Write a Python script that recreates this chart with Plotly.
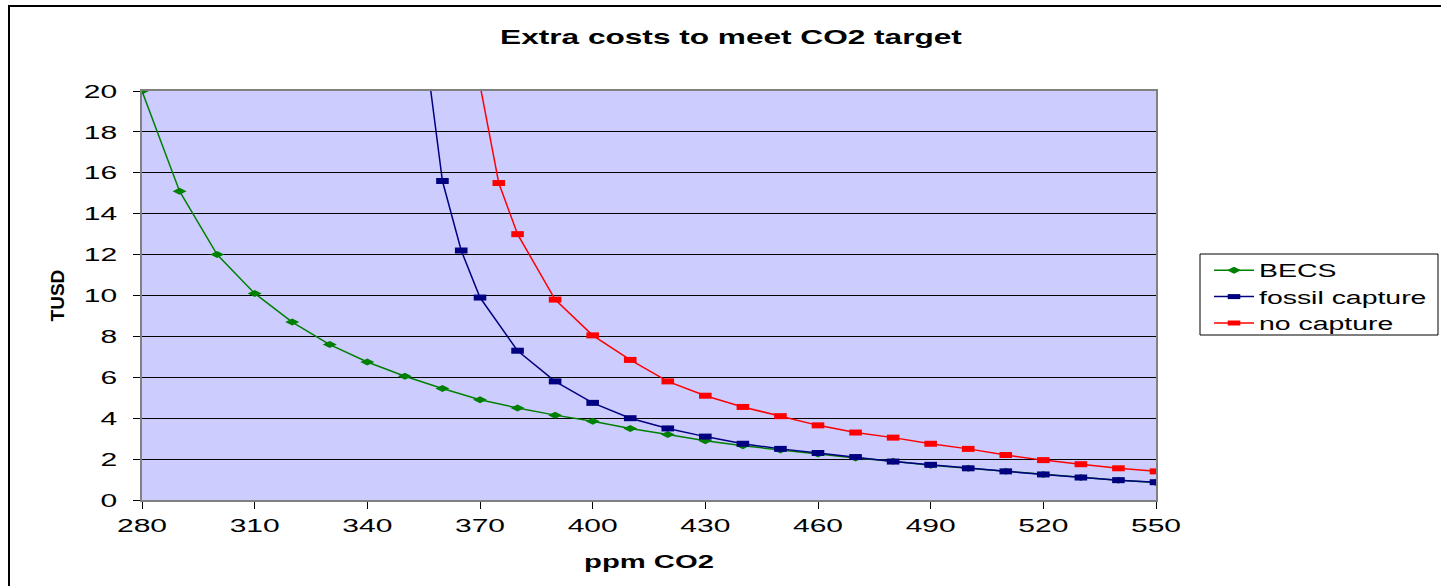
import plotly.graph_objects as go

# ppm CO2 targets and extra costs (TUSD)
becs_ppm = [280, 290, 300, 310, 320, 330, 340, 350, 360, 370, 380, 390, 400, 410,
            420, 430, 440, 450, 460, 470, 480, 490, 500, 510, 520, 530, 540, 550]
becs_cost = [20.0, 15.1, 12.0, 10.1, 8.7, 7.6, 6.75, 6.05, 5.45, 4.9, 4.5, 4.15, 3.85, 3.5,
             3.2, 2.9, 2.65, 2.45, 2.25, 2.05, 1.9, 1.7, 1.55, 1.4, 1.25, 1.1, 0.97, 0.85]

fossil_ppm = [355, 360, 365, 370, 380, 390, 400, 410, 420, 430, 440, 450, 460,
              470, 480, 490, 500, 510, 520, 530, 540, 550]
fossil_cost = [22.7, 15.6, 12.2, 9.9, 7.3, 5.8, 4.75, 4.0, 3.5, 3.1, 2.75, 2.5, 2.3,
               2.1, 1.88, 1.72, 1.55, 1.4, 1.25, 1.1, 0.97, 0.87]

nocap_ppm = [370, 375, 380, 390, 400, 410, 420, 430, 440, 450, 460, 470, 480,
             490, 500, 510, 520, 530, 540, 550]
nocap_cost = [20.3, 15.5, 13.0, 9.8, 8.05, 6.85, 5.8, 5.1, 4.55, 4.1, 3.65, 3.3, 3.05,
              2.75, 2.5, 2.2, 1.95, 1.75, 1.55, 1.4]

x_ticks = [280, 310, 340, 370, 400, 430, 460, 490, 520, 550]
y_ticks = [0, 2, 4, 6, 8, 10, 12, 14, 16, 18, 20]

FONT = "Liberation Sans, Arial, sans-serif"
W, H = 1441, 586
L, R, T, B = 142, 285, 91, 86
PW, PH = W - L - R, H - T - B


def px_x(p):
    return (p - L) / PW


def px_y(p):
    return 1 - (p - T) / PH


fig = go.Figure()
fig.add_trace(go.Scatter(
    x=becs_ppm, y=becs_cost, name="BECS", mode="lines+markers",
    line=dict(color="#008000", width=1.5),
    marker=dict(symbol="diamond-wide", size=10, color="#008000"),
))
fig.add_trace(go.Scatter(
    x=fossil_ppm, y=fossil_cost, name="fossil capture", mode="lines+markers",
    line=dict(color="#000080", width=1.5),
    marker=dict(symbol="line-ew", size=9, line=dict(color="#000080", width=6)),
))
fig.add_trace(go.Scatter(
    x=nocap_ppm, y=nocap_cost, name="no capture", mode="lines+markers",
    line=dict(color="#FF0000", width=1.5),
    marker=dict(symbol="line-ew", size=9, line=dict(color="#FF0000", width=6)),
))

fig.update_layout(
    width=W, height=H,
    margin=dict(l=L, r=R, t=T, b=B),
    paper_bgcolor="white",
    plot_bgcolor="#CCCCFF",
    font=dict(family=FONT, size=18, color="black"),
    title=dict(text="<b>Extra costs to meet CO2 target</b>", x=731 / W, xref="container",
               xanchor="center", y=1 - 37 / H, yanchor="middle", font=dict(size=20)),
    xaxis=dict(
        range=[280, 550], tickvals=x_ticks, ticks="outside", ticklen=7,
        tickcolor="black", showgrid=False, zeroline=False,
        showline=True, linecolor="#808080", linewidth=2, mirror=True,
        tickfont=dict(size=19),
        title=dict(text="<b>ppm CO2</b>", font=dict(size=18.5), standoff=20),
    ),
    yaxis=dict(
        range=[0, 20], tickvals=y_ticks, ticks="outside", ticklen=7,
        tickcolor="black", showgrid=True, gridcolor="black", gridwidth=1,
        zeroline=False, showline=True, linecolor="#808080", linewidth=2, mirror=True,
        tickfont=dict(size=19), ticklabelstandoff=12,
        title=dict(text="<b>TUSD</b>", font=dict(size=19), standoff=26),
    ),
    legend=dict(
        x=px_x(1209), y=px_y(252), xanchor="left", yanchor="top",
        borderwidth=0, bgcolor="rgba(0,0,0,0)",
        font=dict(size=18), tracegroupgap=0, itemwidth=40,
    ),
    showlegend=True,
    shapes=[
        # outer chart frame
        dict(type="rect", xref="paper", yref="paper",
             x0=px_x(9), x1=1.5, y0=-0.5, y1=px_y(6),
             line=dict(color="black", width=2), fillcolor="rgba(0,0,0,0)", layer="below"),
        # legend frame
        dict(type="rect", xref="paper", yref="paper",
             x0=px_x(1200), x1=px_x(1438), y0=px_y(335), y1=px_y(254),
             line=dict(color="black", width=1), fillcolor="white", layer="below"),
    ],
)

# widen the horizontal text labels (the rotated y title keeps its shape)
stretch_js = """
var gd = document.getElementById('{plot_id}');
var SX = 1.58;
gd.querySelectorAll('.legend [clip-path]').forEach(function (e) {
  e.removeAttribute('clip-path');
});
gd.querySelectorAll('text').forEach(function (t) {
  if (t.classList.contains('ytitle')) return;
  var x = parseFloat(t.getAttribute('x')) || 0;
  var y = parseFloat(t.getAttribute('y')) || 0;
  var tr = t.getAttribute('transform') || '';
  t.setAttribute('transform', tr + ' translate(' + x + ',' + y + ') scale(' + SX +
                 ',1) translate(' + (-x) + ',' + (-y) + ')');
});
"""

fig.write_html("out.html", post_script=stretch_js)
